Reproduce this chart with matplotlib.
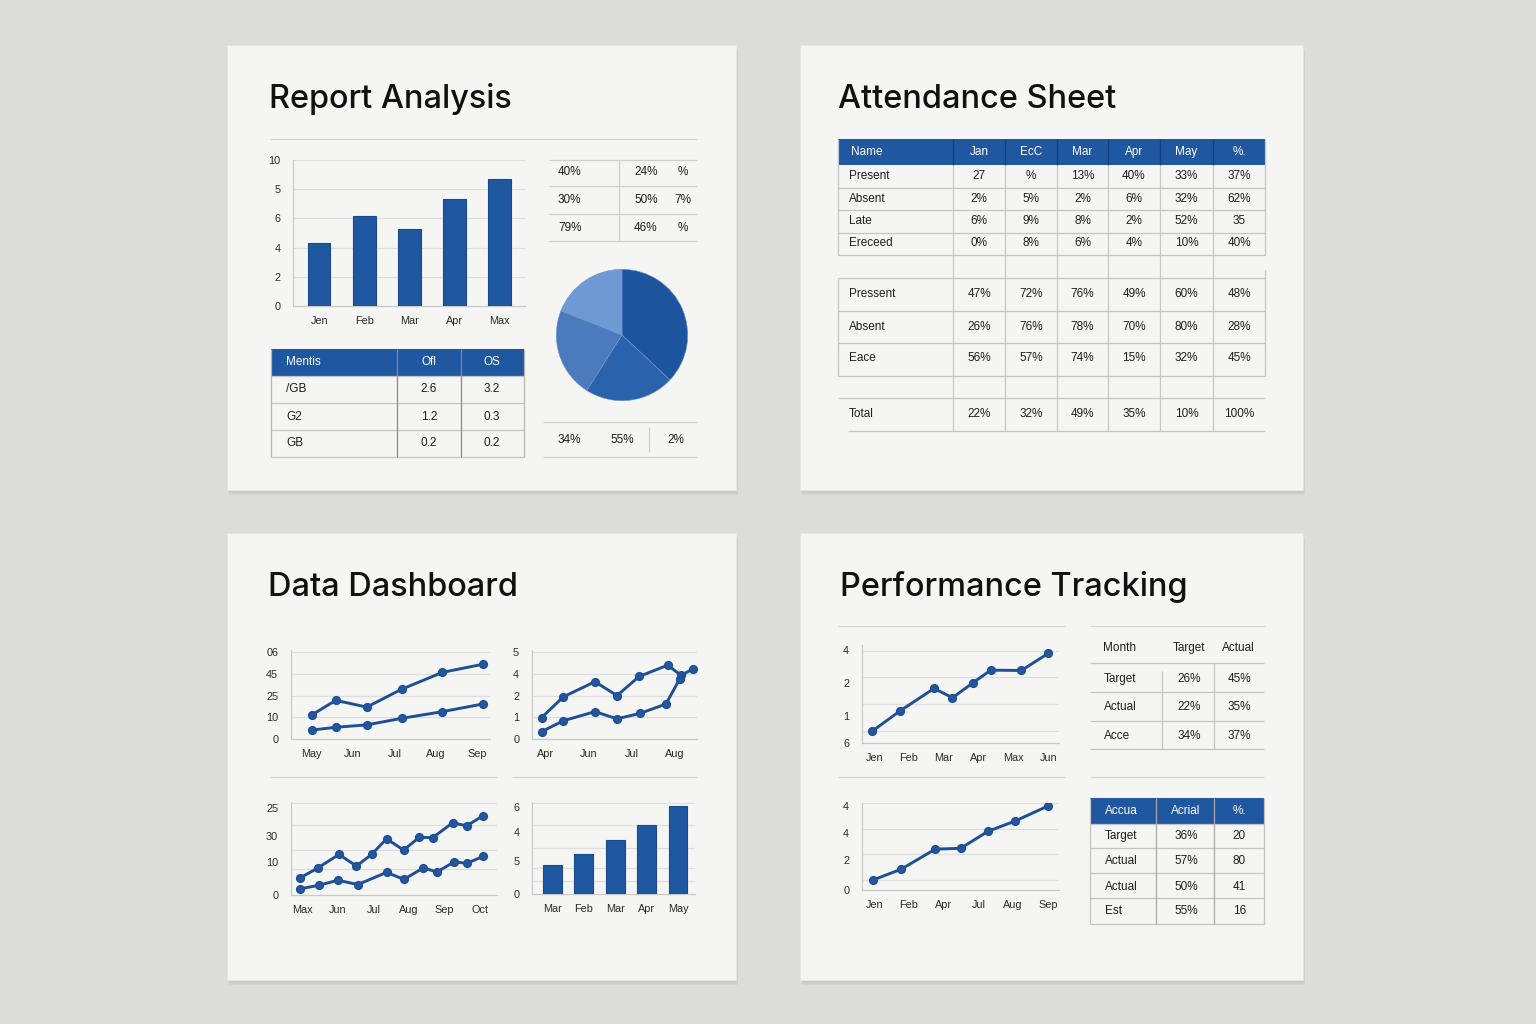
import matplotlib
matplotlib.use('Agg')
import matplotlib.pyplot as plt
from matplotlib.patches import Rectangle

W, H = 1536, 1024

# === Data === #
bar_months = ['Jen', 'Feb', 'Mar', 'Apr', 'Max']
bar_values = [4.3, 6.15, 5.3, 7.3, 8.7]
bar_ticklabels = ['0', '2', '4', '6', '5', '10']

pct_col1 = ['40%', '30%', '79%']
pct_col2 = ['24%', '50%', '46%']
pct_col3 = ['%', '7%', '%']

pie_values = [37, 22, 22, 19]
pie_colors = ['#1d549e', '#2a63ac', '#4b7bbd', '#6f99d2']
pie_labels = ['34%', '55%', '2%']

metric_header = ['Mentis', 'Ofl', 'OS']
metric_rows = ['/GB', 'G2', 'GB']
metric_ofl = ['2.6', '1.2', '0.2']
metric_os = ['3.2', '0.3', '0.2']

att_header = ['Name', 'Jan', 'EcC', 'Mar', 'Apr', 'May', '%.']
att_rows_1 = ['Present', 'Absent', 'Late', 'Ereceed']
att_vals_1 = [['27', '%', '13%', '40%', '33%', '37%'],
              ['2%', '5%', '2%', '6%', '32%', '62%'],
              ['6%', '9%', '8%', '2%', '52%', '35'],
              ['0%', '8%', '6%', '4%', '10%', '40%']]
att_rows_2 = ['Pressent', 'Absent', 'Eace']
att_vals_2 = [['47%', '72%', '76%', '49%', '60%', '48%'],
              ['26%', '76%', '78%', '70%', '80%', '28%'],
              ['56%', '57%', '74%', '15%', '32%', '45%']]
att_total = ['22%', '32%', '49%', '35%', '10%', '100%']

# Data Dashboard, top-left lines
dash1_labels = ['May', 'Jun', 'Jul', 'Aug', 'Sep']
dash1_x = [0, 0.58, 1.33, 2.17, 3.16, 4.13]
dash1_hi = [1.11, 1.78, 1.47, 2.29, 3.07, 3.44]
dash1_lo = [0.41, 0.54, 0.65, 0.95, 1.26, 1.61]
dash1_yt = ['0', '10', '25', '45', '06']

# Data Dashboard, top-right lines
dash2_labels = ['Apr', 'Jun', 'Jul', 'Aug']
dash2_x_hi = [-0.08, 0.42, 1.15, 1.66, 2.17, 2.83, 3.14, 3.42]
dash2_hi = [0.99, 1.94, 2.64, 2.0, 2.88, 3.40, 2.93, 3.24]
dash2_x_lo = [-0.08, 0.42, 1.15, 1.66, 2.19, 2.79, 3.11]
dash2_lo = [0.34, 0.84, 1.26, 0.93, 1.18, 1.61, 2.78]
dash2_yt = ['0', '1', '2', '4', '5']

# Data Dashboard, bottom-left lines
dash3_labels = ['Max', 'Jun', 'Jul', 'Aug', 'Sep', 'Oct']
dash3_x_hi = [-0.08, 0.43, 1.03, 1.52, 1.95, 2.37, 2.85, 3.29, 3.67, 4.23, 4.63, 5.08]
dash3_hi = [0.58, 0.93, 1.40, 1.0, 1.40, 1.94, 1.55, 1.99, 1.98, 2.49, 2.39, 2.73]
dash3_x_lo = [-0.08, 0.48, 1.0, 1.56, 2.37, 2.86, 3.41, 3.79, 4.28, 4.63, 5.08]
dash3_lo = [0.21, 0.34, 0.51, 0.36, 0.78, 0.54, 0.94, 0.79, 1.15, 1.09, 1.33]
dash3_yt = ['0', '10', '30', '25']

# Data Dashboard, bottom-right bars
dash4_labels = ['Mar', 'Feb', 'Mar', 'Apr', 'May']
dash4_values = [2.02, 2.76, 3.74, 4.76, 6.09]
dash4_yt = ['0', '5', '4', '6']

# Performance Tracking lines
perf1_labels = ['Jen', 'Feb', 'Mar', 'Apr', 'Max', 'Jun']
perf1_x = [-0.05, 0.74, 1.72, 2.25, 2.84, 3.35, 4.23, 5.0]
perf1_y = [0.41, 1.08, 1.83, 1.52, 2.02, 2.44, 2.43, 3.0]
perf1_yt = ['6', '1', '2', '4']

perf2_labels = ['Jen', 'Feb', 'Apr', 'Jul', 'Aug', 'Sep']
perf2_x = [-0.03, 0.77, 1.76, 2.49, 3.28, 4.05, 5.0]
perf2_y = [0.36, 0.74, 1.46, 1.49, 2.10, 2.46, 3.0]
perf2_yt = ['0', '2', '4', '4']

perf_head = ['Month', 'Target', 'Actual']
perf_rows = ['Target', 'Actual', 'Acce']
perf_target = ['26%', '22%', '34%']
perf_actual = ['45%', '35%', '37%']

acc_head = ['Accua', 'Acrial', '%.']
acc_rows = ['Target', 'Actual', 'Actual', 'Est']
acc_pct = ['36%', '57%', '50%', '55%']
acc_num = ['20', '80', '41', '16']

# === Style === #
BG = '#dcdcda'
CARD = '#f5f5f3'
BLUE = '#1f57a1'
LINE_BLUE = '#1d4f97'
GRID = '#dedede'
RULE = '#c4c4c4'
TXT = '#1e1e1e'

plt.rcParams['font.family'] = ['Liberation Sans', 'DejaVu Sans']

fig = plt.figure(figsize=(W / 100, H / 100), dpi=100, facecolor=BG)
bg = fig.add_axes([0, 0, 1, 1])
bg.set_xlim(0, W)
bg.set_ylim(H, 0)
bg.axis('off')


def px_axes(x0, y0, x1, y1):
    ax = fig.add_axes([x0 / W, 1 - y1 / H, (x1 - x0) / W, (y1 - y0) / H])
    ax.set_facecolor('none')
    return ax


def hline(y, x0, x1, c=RULE, lw=0.9):
    bg.plot([x0, x1], [y, y], color=c, lw=lw, solid_capstyle='butt')


def vline(x, y0, y1, c=RULE, lw=0.9):
    bg.plot([x, x], [y0, y1], color=c, lw=lw, solid_capstyle='butt')


def txt(x, y, s, ha='center', size=8.5, color=TXT, **kw):
    bg.text(x, y, s, ha=ha, va='center', fontsize=size, color=color, **kw)


def card(x0, y0, x1, y1, title, tx):
    for i in range(7):
        bg.add_patch(Rectangle((x0 + 0.4 * i, y0 + 0.9 * i), x1 - x0, y1 - y0,
                               facecolor='black', alpha=0.017, lw=0))
    bg.add_patch(Rectangle((x0, y0), x1 - x0, y1 - y0, facecolor=CARD,
                           edgecolor='#e6e6e4', lw=0.6))
    bg.text(tx, y0 + 54, title, fontsize=23.4, color='#111111', fontweight=500,
            ha='left', va='center', family=['Inter', 'DejaVu Sans'])


def style_chart(ax, xlim, ylim, yticks, ylabels, xticks, xlabels, minor=None):
    ax.set_xlim(*xlim)
    ax.set_ylim(*ylim)
    ax.set_yticks(yticks)
    ax.set_yticklabels(ylabels)
    ax.set_xticks(xticks)
    ax.set_xticklabels(xlabels)
    for s in ['top', 'right']:
        ax.spines[s].set_visible(False)
    for s in ['left', 'bottom']:
        ax.spines[s].set_color('#c9c9c9')
        ax.spines[s].set_linewidth(0.9)
    ax.tick_params(length=0, labelsize=7.8, labelcolor='#2a2a2a')
    ax.tick_params(axis='y', pad=9)
    ax.tick_params(axis='x', pad=7)
    if minor is None:
        ax.grid(axis='y', color=GRID, lw=0.9)
    else:
        ax.set_yticks(minor, minor=True)
        ax.tick_params(which='minor', length=0)
        ax.grid(axis='y', which='minor', color=GRID, lw=0.9)
    ax.set_axisbelow(True)


def blue_lines(ax, xs, ys):
    ax.plot(xs, ys, color=LINE_BLUE, lw=2.1, marker='o', ms=5.6,
            markerfacecolor='#24569c', markeredgecolor=LINE_BLUE, zorder=3)


card(227, 45, 736, 490, 'Report Analysis', 269)
card(800, 45, 1303, 490, 'Attendance Sheet', 838)
card(227, 533, 736, 980, 'Data Dashboard', 268)
card(800, 533, 1303, 980, 'Performance Tracking', 840)

# ---------- Report Analysis ---------- #
hline(139, 270, 697, c='#d6d6d6')

ax = px_axes(293, 160, 525, 306)
xs = range(len(bar_values))
ax.bar(xs, bar_values, width=0.5, color=BLUE, edgecolor='#184a8e', lw=0.8, zorder=3)
style_chart(ax, (-0.58, 4.56), (0, 10), [0, 2, 4, 6, 8, 10], bar_ticklabels,
            list(xs), bar_months)

for y in [160, 186, 214, 241]:
    hline(y, 549, 697, c='#cfcfcf')
vline(619, 160, 241, c='#cfcfcf')
for i, y in enumerate([172, 200, 228]):
    txt(558, y, pct_col1[i], ha='left')
    txt(634, y, pct_col2[i], ha='left')
    txt(683, y, pct_col3[i])

pax = px_axes(555, 268, 689, 402)
pax.pie(pie_values, colors=pie_colors, startangle=90, counterclock=False,
        radius=1, wedgeprops=dict(edgecolor='#6b93cb', lw=0.4))
pax.set_xlim(-1.02, 1.02)
pax.set_ylim(-1.02, 1.02)
pax.set_aspect('equal')
pax.axis('off')

hline(422, 543, 697, c='#cfcfcf')
hline(457, 543, 697, c='#cfcfcf')
vline(649, 427, 452, c='#cfcfcf')
for x, s in zip([569, 622, 676], pie_labels):
    txt(x, 440, s)

mcols = [271, 397, 461, 524]
bg.add_patch(Rectangle((271, 349), 253, 27, facecolor=BLUE, lw=0))
for y in [376, 403, 430, 457]:
    hline(y, 271, 524)
for x in mcols:
    vline(x, 349, 457, c='#b5b5b5' if x in (271, 524) else '#8a8a8a')
txt(286, 362, metric_header[0], ha='left', color='white')
txt(429, 362, metric_header[1], color='white')
txt(492, 362, metric_header[2], color='white')
for i, y in enumerate([389.5, 416.5, 443.5]):
    txt(286, y, metric_rows[i], ha='left')
    txt(429, y, metric_ofl[i])
    txt(492, y, metric_os[i])

# ---------- Attendance Sheet ---------- #
acols = [838, 953, 1005, 1057, 1108, 1160, 1213, 1265]
acent = [(acols[i] + acols[i + 1]) / 2 for i in range(1, 7)]
bg.add_patch(Rectangle((838, 139), 427, 26, facecolor=BLUE, lw=0))
for x in acols[1:-1]:
    vline(x, 139, 165, c='#173f78')
    vline(x, 165, 431, c='#c8c8c8')
for y in [187.5, 210, 232.5, 254.5]:
    hline(y, 838, 1265)
vline(838, 139, 254.5)
vline(1265, 139, 254.5)
for y in [278.3, 310.7, 342.7, 375.7]:
    hline(y, 838, 1265)
vline(838, 278.3, 375.7)
vline(1265, 270, 375.7)
hline(398.3, 838, 1265)
hline(430.7, 848, 1265)

txt(851, 152, att_header[0], ha='left', color='white')
for x, s in zip(acent, att_header[1:]):
    txt(x, 152, s, color='white')
for r, y in enumerate([176, 199, 221, 243.5]):
    txt(849, y, att_rows_1[r], ha='left')
    for x, s in zip(acent, att_vals_1[r]):
        txt(x, y, s)
for r, y in enumerate([294, 326.7, 358.3]):
    txt(849, y, att_rows_2[r], ha='left')
    for x, s in zip(acent, att_vals_2[r]):
        txt(x, y, s)
txt(849, 414.3, 'Total', ha='left')
for x, s in zip(acent, att_total):
    txt(x, 414.3, s)

# ---------- Data Dashboard ---------- #
ax = px_axes(290.7, 650, 490, 739)
blue_lines(ax, dash1_x, dash1_hi)
blue_lines(ax, dash1_x, dash1_lo)
style_chart(ax, (-0.51, 4.31), (0, 4.1), [0, 1, 2, 3, 4], dash1_yt,
            range(len(dash1_labels)), dash1_labels)

ax = px_axes(531.7, 650, 696.7, 739)
blue_lines(ax, dash2_x_hi, dash2_hi)
blue_lines(ax, dash2_x_lo, dash2_lo)
style_chart(ax, (-0.31, 3.5), (0, 4.1), [0, 1, 2, 3, 4], dash2_yt,
            range(len(dash2_labels)), dash2_labels)

hline(777, 270, 497, c='#d6d6d6')
hline(777, 512, 697, c='#d6d6d6')

ax = px_axes(290.7, 801.7, 497.3, 895)
blue_lines(ax, dash3_x_hi, dash3_hi)
blue_lines(ax, dash3_x_lo, dash3_lo)
style_chart(ax, (-0.33, 5.49), (0, 3.22), [0, 1.15, 2.05, 3.0], dash3_yt,
            range(len(dash3_labels)), dash3_labels,
            minor=[0.89, 1.57, 2.41, 3.18])

ax = px_axes(532.3, 802, 695, 894)
xs = range(len(dash4_values))
ax.bar(xs, dash4_values, width=0.6, color=BLUE, edgecolor='#184a8e', lw=0.8, zorder=3)
style_chart(ax, (-0.64, 4.54), (0, 6.34), [0, 2.3, 4.3, 6.0], dash4_yt,
            list(xs), dash4_labels, minor=[0.92, 1.81, 3.15, 4.76, 6.26])

# ---------- Performance Tracking ---------- #
hline(626, 838, 1065, c='#d6d6d6')
hline(777, 838, 1065, c='#d6d6d6')
hline(626, 1090, 1265, c='#d6d6d6')

ax = px_axes(861.7, 645, 1059.3, 743.3)
blue_lines(ax, perf1_x, perf1_y)
style_chart(ax, (-0.36, 5.32), (0, 3.28), [0, 0.9, 2.0, 3.1], perf1_yt,
            range(len(perf1_labels)), perf1_labels,
            minor=[0.42, 1.31, 2.22, 3.09])

ax = px_axes(861.7, 802.7, 1059.3, 890)
blue_lines(ax, perf2_x, perf2_y)
style_chart(ax, (-0.36, 5.33), (0, 3.12), [0, 1.07, 2.03, 3.0], perf2_yt,
            range(len(perf2_labels)), perf2_labels,
            minor=[0.36, 1.29, 2.18, 3.1])

txt(1103, 648.3, perf_head[0], ha='left')
txt(1189, 648.3, perf_head[1])
txt(1238.3, 648.3, perf_head[2])
for y in [663.3, 692.3, 720.7, 749.3]:
    hline(y, 1090, 1264.3)
vline(1161.7, 671, 749.3)
vline(1214, 663.3, 749.3)
for i, y in enumerate([679, 707.3, 735.7]):
    txt(1104, y, perf_rows[i], ha='left')
    txt(1189, y, perf_target[i])
    txt(1239, y, perf_actual[i])
hline(776.7, 1090, 1264.3, c='#d6d6d6')

bg.add_patch(Rectangle((1090, 798.3), 174.3, 26, facecolor=BLUE, lw=0))
for y in [824.3, 848.3, 873.3, 898.3, 924.3]:
    hline(y, 1090, 1264.3)
vline(1090, 798.3, 924.3)
vline(1264.3, 798.3, 924.3)
vline(1155.7, 798.3, 924.3, c='#a8a8a8')
vline(1214.3, 798.3, 924.3, c='#a8a8a8')
txt(1121.7, 811.3, acc_head[0], color='white')
txt(1186, 811.3, acc_head[1], color='white')
txt(1239.3, 811.3, acc_head[2], color='white')
for i, y in enumerate([836, 860.7, 886.7, 911]):
    txt(1105, y, acc_rows[i], ha='left')
    txt(1186, y, acc_pct[i])
    txt(1239.3, y, acc_num[i])

fig.savefig('out.png', dpi=100, facecolor=BG)
